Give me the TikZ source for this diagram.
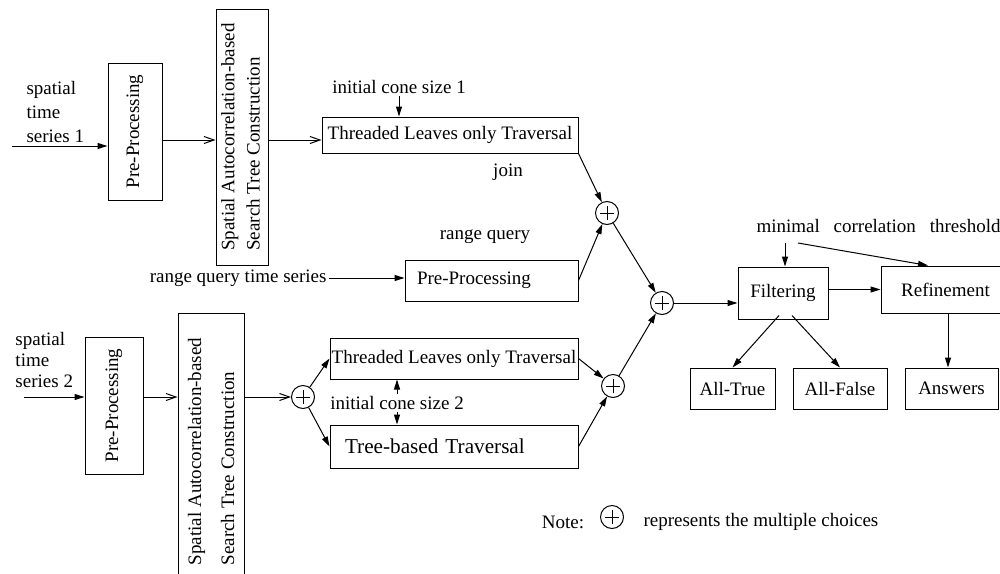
\documentclass[tikz,border=0pt]{standalone}
\usepackage{fontspec}
\setmainfont{Liberation Serif}
\usetikzlibrary{arrows.meta,calc}
\begin{document}
\begin{tikzpicture}[x=0.5pt,y=-0.5pt,line width=0.5pt,
  every node/.style={font=\fontsize{9.5}{11.5}\selectfont},
  box/.style={draw,inner sep=0pt,anchor=center},
  fa/.style={-{Triangle[length=5pt,width=3pt]}},
  oa/.style={-{Straight Barb[length=5pt,width=3.5pt]}},
  plus/.style={draw,circle,minimum size=11.5pt,inner sep=0pt,
    path picture={\draw ([xshift=-3.5pt]path picture bounding box.center) -- ([xshift=3.5pt]path picture bounding box.center)
      ([yshift=-3.5pt]path picture bounding box.center) -- ([yshift=3.5pt]path picture bounding box.center);}},
  lbl/.style={inner sep=1pt}
]
\useasboundingbox (0,0) rectangle (1000,573);
\clip (0,0) rectangle (1000,573);

% --- top chain ---
\node[lbl,align=left,anchor=west,font=\fontsize{9.5}{12}\selectfont] (s1) at (24,112) {spatial\\time\\series 1};
\coordinate (s1in) at (12,146);
\node[box,minimum width=27pt,minimum height=68.5pt] (pp1) at (135,131.5) {\rotatebox{90}{Pre-Processing}};
\node[box,minimum width=26pt,minimum height=128pt] (st1) at (242,137)
  {\rotatebox{90}{\renewcommand\arraystretch{1.09}\begin{tabular}{@{}l@{}}Spatial Autocorrelation-based\\Search Tree Construction\end{tabular}}};
\node[box,minimum width=128pt,minimum height=18pt] (tl1) at (450,135) {Threaded Leaves only Traversal};
\node[lbl] (ics1) at (399,87) {initial cone size 1};
\node[lbl] (join) at (508,172) {join};
\coordinate (r1) at (0,140);

\draw[fa] (s1in) -- (s1in -| pp1.west);
\draw[oa] (pp1.east |- r1) -- (st1.west |- r1);
\draw[oa] (st1.east |- r1) -- (tl1.west |- r1);
\draw[fa] (ics1.south) -- (ics1.south |- tl1.north);

% --- range query ---
\node[lbl] (rqlab) at (485,237) {range query};
\node[anchor=east,inner sep=1pt] (rq) at (329,278) {range query time series};
\node[box,minimum width=86.5pt,minimum height=20.5pt,text width=74.5pt,align=left,inner xsep=6pt] (pp3) at (491.5,280.5) {Pre-Processing};
\draw[fa] (rq.east) -- (rq.east -| pp3.west);

% --- plus circles ---
\node[plus] (c1) at (607,213) {};
\node[plus] (c2) at (662,303) {};
\node[plus] (c3) at (613,386) {};
\node[plus] (c4) at (303,397) {};

\draw[fa] (tl1.south east) -- (c1);
\draw[fa] (pp3.east) -- (c1);
\draw[fa] (c1) -- (c2);
\draw[fa] (c3) -- (c2);

% --- bottom chain ---
\node[lbl,align=left,anchor=west,font=\fontsize{9.5}{10.5}\selectfont] (s2) at (13,360) {spatial\\time\\series 2};
\coordinate (s2in) at (24,397);
\node[box,minimum width=29pt,minimum height=68.5pt] (pp2) at (114,405.5) {\rotatebox{90}{Pre-Processing}};
\node[box,minimum width=33pt,minimum height=138.5pt] (st2) at (211,451.5)
  {\rotatebox{90}{\renewcommand\arraystretch{1.43}\begin{tabular}{@{}l@{}}Spatial Autocorrelation-based\\Search Tree Construction\end{tabular}}};
\node[box,minimum width=124pt,minimum height=20.5pt] (tl2) at (454,358.5) {Threaded Leaves only Traversal};
\node[box,minimum width=124pt,minimum height=21.5pt,text width=109pt,align=left,inner xsep=7.5pt,font=\fontsize{10.6}{12}\selectfont] (tb) at (454,446.5) {Tree-based Traversal};
\node[lbl] (ics2) at (397,403) {initial cone size 2};
\coordinate (r2) at (0,397);

\draw[fa] (s2in) -- (s2in -| pp2.west);
\draw[oa] (pp2.east |- r2) -- (st2.west |- r2);
\draw[oa] (st2.east |- c4) -- (c4);
\draw[fa] (c4) -- (tl2.west);
\draw[fa] (c4) -- (tb.west);
\draw[fa] (ics2.north) -- (ics2.north |- tl2.south);
\draw[fa] (ics2.south) -- (ics2.south |- tb.north);
\draw[fa] (tl2.east) -- (c3);
\draw[fa] (tb.east) -- (c3);

% --- right part ---
\node[box,minimum width=45pt,minimum height=26pt] (filt) at (783,293) {Filtering};
\node[box,minimum width=64.5pt,minimum height=23.5pt] (ref) at (945.5,289.5) {Refinement};
\node[box,minimum width=42.5pt,minimum height=20.5pt] (at) at (732.5,388.5) {All-True};
\node[box,minimum width=47pt,minimum height=20.5pt] (af) at (840,388.5) {All-False};
\node[box,minimum width=46.5pt,minimum height=20.5pt] (ans) at (951.5,388.5) {Answers};
\node[anchor=west,inner sep=0pt] (mct) at (756,226) {\makebox[122pt][s]{minimal correlation threshold}};
\coordinate (m1) at (785,243);
\coordinate (m2) at (798,243);

\draw[fa] (c2) -- (c2 -| filt.west);
\draw[fa] (ref.west -| filt.east) -- (ref.west);
\draw[fa] (m1) -- (m1 |- filt.north);
\draw[fa] (m2) -- ([xshift=-8.75pt]ref.north);
\draw[fa] ([xshift=-2pt,yshift=2pt]filt.south) -- (at.north);
\draw[fa] ([xshift=4.5pt,yshift=2pt]filt.south) -- (af.north);
\draw[fa] ([xshift=1.25pt]ref.south) -- ([xshift=1.25pt]ref.south |- ans.north);

% --- note ---
\node[lbl] (note) at (563,522) {Note:};
\node[plus] (cn) at (612,517) {};
\node[anchor=west,inner sep=0pt] (rep) at (643,522) {represents the multiple choices};
\end{tikzpicture}
\end{document}
